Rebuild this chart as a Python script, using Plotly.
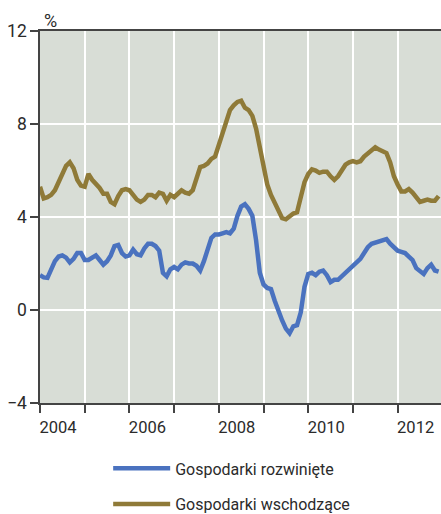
import plotly.graph_objects as go

start_year = 2004
developed = [1.5, 1.4, 1.38, 1.7, 2.1, 2.3, 2.35, 2.25, 2.05, 2.2, 2.45, 2.45,
             2.15, 2.15, 2.25, 2.35, 2.15, 1.95, 2.1, 2.35, 2.75, 2.8, 2.45, 2.3,
             2.35, 2.6, 2.4, 2.35, 2.65, 2.85, 2.85, 2.75, 2.55, 1.6, 1.45, 1.75,
             1.85, 1.75, 1.95, 2.05, 2.0, 2.0, 1.9, 1.7, 2.1, 2.65, 3.1, 3.25,
             3.25, 3.3, 3.35, 3.3, 3.5, 4.05, 4.45, 4.55, 4.35, 4.05, 3.0, 1.6,
             1.1, 0.95, 0.9, 0.4, -0.1, -0.45, -0.8, -1.0, -0.7, -0.65, -0.1, 1.0,
             1.55, 1.6, 1.5, 1.65, 1.7, 1.5, 1.2, 1.3, 1.3, 1.45, 1.6, 1.75,
             1.9, 2.0, 2.2, 2.45, 2.7, 2.85, 2.9, 2.95, 3.05, 3.05, 2.85, 2.7,
             2.55, 2.5, 2.45, 2.3, 2.15, 1.8, 1.65, 1.55, 1.8, 1.95, 1.7, 1.65]
emerging = [5.3, 4.8, 4.85, 4.95, 5.15, 5.5, 5.85, 6.2, 6.35, 6.1, 5.6, 5.35,
            5.3, 5.85, 5.6, 5.45, 5.25, 5.0, 5.0, 4.65, 4.55, 4.9, 5.15, 5.2,
            5.15, 4.95, 4.75, 4.65, 4.75, 4.95, 4.95, 4.85, 5.05, 5.0, 4.7, 4.95,
            4.85, 5.0, 5.15, 5.05, 5.0, 5.15, 5.6, 6.15, 6.2, 6.3, 6.5, 6.6,
            7.1, 7.6, 8.25, 8.6, 8.8, 8.95, 9.0, 8.7, 8.6, 8.35, 7.8, 7.0,
            6.4, 5.4, 4.95, 4.65, 4.3, 3.95, 3.9, 4.05, 4.15, 4.2, 4.8, 5.5,
            5.85, 6.05, 6.0, 5.9, 5.95, 5.95, 5.75, 5.6, 5.75, 6.05, 6.25, 6.35,
            6.4, 6.35, 6.4, 6.6, 6.75, 6.85, 7.0, 6.9, 6.8, 6.75, 6.35, 5.75,
            5.4, 5.1, 5.1, 5.2, 5.05, 4.85, 4.65, 4.7, 4.75, 4.7, 4.7, 4.9]
x_label_years = [2004, 2006, 2008, 2010, 2012]
y_ticks = [-4, 0, 4, 8, 12]
names = ["Gospodarki rozwinięte", "Gospodarki wschodzące"]

months = [start_year + i / 12 for i in range(len(developed))]

FONT = "Roboto, Liberation Sans, sans-serif"
TXT = "#2b2b2b"

fig = go.Figure()
fig.add_trace(go.Scatter(x=months, y=developed, mode="lines", name=names[0],
                         line=dict(color="#4a72bf", width=4.5), legendgroup="a"))
fig.add_trace(go.Scatter(x=months, y=emerging, mode="lines", name=names[1],
                         line=dict(color="#8f7a38", width=4.5), legendgroup="b"))

fig.update_layout(
    width=441, height=514,
    margin=dict(l=40, r=0, t=31, b=111, autoexpand=False),
    paper_bgcolor="white", plot_bgcolor="#d8ddd6",
    font=dict(family=FONT, color=TXT, size=16),
    showlegend=True,
    legend=dict(x=0.17, xanchor="left", y=-0.13, yanchor="top",
                font=dict(size=16, color=TXT), tracegroupgap=12,
                itemwidth=57,
                bgcolor="rgba(0,0,0,0)"),
    annotations=[dict(text="%", xref="paper", yref="paper", x=0, y=1,
                      xanchor="left", yanchor="bottom", xshift=2, yshift=-2,
                      showarrow=False, font=dict(size=18, color=TXT))],
)
fig.update_xaxes(
    range=[2004, 2012.97], tickvals=x_label_years,
    ticktext=[str(v) for v in x_label_years],
    ticks="outside", ticklen=8, tickcolor="#444", tickwidth=1.5,
    ticklabelshift=18, automargin=False,
    showline=True, linecolor="#444", linewidth=1.5, mirror=True,
    showgrid=True, gridcolor="white", gridwidth=1.5, zeroline=False,
    minor=dict(dtick=1, tick0=2004, ticks="outside", ticklen=8,
               tickcolor="#444", tickwidth=1.5, showgrid=True,
               gridcolor="white", gridwidth=1.5),
    tickfont=dict(size=16.5, color=TXT),
)
fig.update_yaxes(
    range=[-4, 12], tickvals=y_ticks, automargin=False,
    ticks="outside", ticklen=8, tickcolor="#444", tickwidth=1.5,
    showline=True, linecolor="#444", linewidth=1.5,
    showgrid=True, gridcolor="white", gridwidth=1.5, zeroline=False,
    tickfont=dict(size=17.5, color=TXT),
)
fig.write_html("out.html", config={"displayModeBar": False},
               post_script="document.body.style.margin='0';document.body.style.overflow='hidden';")
